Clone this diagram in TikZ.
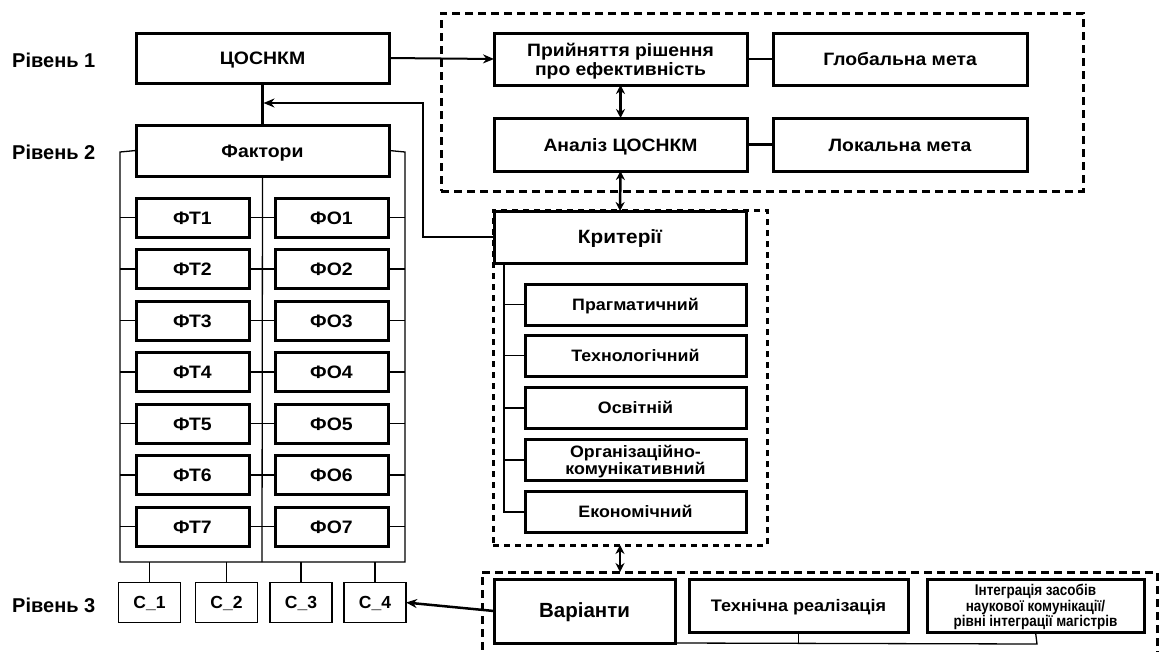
\documentclass[tikz,border=0pt]{standalone}
\usepackage{fontspec}
\setmainfont{Liberation Sans}
\newfontfamily\widef{Liberation Sans}[FakeStretch=1.08]
\newfontfamily\condf{Liberation Sans}[FakeStretch=0.87]
\usetikzlibrary{arrows.meta}
\begin{document}
\begin{tikzpicture}[x=1pt,y=-1pt,
  box/.style={draw,line width=3pt,inner sep=0pt,outer sep=0pt,align=center,font=\widef\bfseries\fontsize{18}{20}\selectfont},
  one/.style={text height=#1,text depth=0pt},
  one/.default=13pt,
  multi/.style={text depth=0pt},
  cbox/.style={draw,line width=1.5pt,inner sep=0pt,outer sep=0pt,font=\bfseries\fontsize{17.5}{20}\selectfont,minimum width=62pt,minimum height=40pt,one=12.5pt},
  rbox/.style={box,font=\widef\bfseries\fontsize{17.9}{19}\selectfont},
  kbox/.style={box,line width=3pt,font=\widef\bfseries\fontsize{16.5}{17}\selectfont,minimum width=221pt,minimum height=41pt},
  dbox/.style={draw,line width=3pt,dash pattern=on 8pt off 5pt,inner sep=0pt,outer sep=0pt},
  lvl/.style={anchor=west,inner sep=0pt,font=\bfseries\fontsize{20}{22}\selectfont,one=14.3pt},
  thin/.style={line width=1.3pt},
  arr/.style={line width=2.5pt,-{Stealth[length=11pt,width=9pt]}},
  darr/.style={line width=2.5pt,{Stealth[length=9pt,width=9pt]}-{Stealth[length=9pt,width=9pt]}}
]
\useasboundingbox[fill=white] (0,0) rectangle (1164,651);

% level labels
\node[lvl] (l1) at (12,60) {Рівень 1};
\node[lvl] (l2) at (12,152) {Рівень 2};
\node[lvl] (l3) at (12,605) {Рівень 3};

% left column
\node[box,one,minimum width=253pt,minimum height=50pt] (cos) at (262.5,58) {ЦОСНКМ};
\node[box,one,minimum width=253pt,minimum height=51pt] (fak) at (262.5,150.5) {Фактори};
\foreach \i in {1,...,7}{
  \pgfmathsetmacro{\yy}{217.5+51.5*(\i-1)}
  \node[box,one,minimum width=113pt,minimum height=39pt] (ft\i) at (192.5,\yy) {ФТ\i};
  \node[box,one,minimum width=113pt,minimum height=39pt] (fo\i) at (331.5,\yy) {ФО\i};
}
\node[cbox] (c1) at (149.5,602.5) {C\_1};
\node[cbox] (c2) at (226.5,602.5) {C\_2};
\node[cbox] (c3) at (301,602.5) {C\_3};
\node[cbox] (c4) at (375,602.5) {C\_4};

% bracket coordinates
\coordinate (lt) at (120,152);
\coordinate (rt) at (405,152);
\coordinate (lb) at (120,562);
\coordinate (rb) at (405,562);
\coordinate (mb) at (262,562);

\draw[line width=3pt] (cos.south) -- (fak.north);
\draw[thin] (fak.west) -- (lt) -- (lb) -- (rb) -- (rt) -- (fak.east);
\draw[thin] (fak.south) -- (mb);
\foreach \i in {1,...,7}{
  \draw[thin] (ft\i.west -| lt) -- (ft\i.west);
  \draw[thin] (ft\i.east) -- (fo\i.west);
  \draw[thin] (fo\i.east) -- (fo\i.east -| rt);
}
\foreach \k in {1,...,4}{
  \draw[thin] (c\k.north) -- (c\k.north |- lb);
}

% top right group
\node[dbox,minimum width=642pt,minimum height=178pt] (dtop) at (762,102) {};
\node[rbox,multi,minimum width=253pt,minimum height=52pt] (prr) at (620.5,59) {Прийняття рішення\\про ефективність};
\node[rbox,one,minimum width=254pt,minimum height=52pt] (glob) at (900,59) {Глобальна мета};
\node[rbox,one,minimum width=253pt,minimum height=53pt] (anl) at (620.5,144.5) {Аналіз ЦОСНКМ};
\node[rbox,one,minimum width=254pt,minimum height=53pt] (lok) at (900,144.5) {Локальна мета};
\draw[line width=2.5pt] (prr.east) -- (glob.west);
\draw[line width=2.5pt] (anl.east) -- (lok.west);

% criteria group
\node[dbox,dash pattern=on 6pt off 5pt,minimum width=274pt,minimum height=335pt] (dkr) at (630,377.5) {};
\node[box,one=13.8pt,fill=white,minimum width=252pt,minimum height=52pt,font=\widef\bfseries\fontsize{19.2}{20}\selectfont] (krit) at (620,237) {Критерії};
\node[kbox,one=11.8pt] (k1) at (635.5,304.5) {Прагматичний};
\node[kbox,one=11.8pt] (k2) at (635.5,355.5) {Технологічний};
\node[kbox,one=11.8pt] (k3) at (635.5,408) {Освітній};
\node[kbox,multi] (k4) at (635.5,460) {Організаційно-\\комунікативний};
\node[kbox,one=11.8pt] (k5) at (635.5,512) {Економічний};
\coordinate (ktop) at (504,264);
\draw[thin] (ktop) -- (ktop |- k5.west) -- (k5.west);
\foreach \k in {1,...,4}{
  \draw[thin] (ktop |- k\k.west) -- (k\k.west);
}

% bottom group
\node[dbox,minimum width=675pt,minimum height=88pt] (dbot) at (819.5,616) {};
\node[box,one=13.6pt,minimum width=181pt,minimum height=64pt,font=\bfseries\fontsize{20.5}{24}\selectfont] (var) at (584.5,611) {Варіанти};
\node[box,one=12pt,minimum width=219pt,minimum height=53pt,font=\widef\bfseries\fontsize{16.7}{18}\selectfont] (tech) at (798.5,605.5) {Технічна реалізація};
\node[box,multi,minimum width=217pt,minimum height=53pt,font=\condf\bfseries\fontsize{15.5}{15.5}\selectfont] (integ) at (1035.5,605.5) {Інтеграція засобів\\наукової комунікації/\\рівні інтеграції магістрів};
\coordinate (bl) at (1037,644);
\draw[thin] (var.south east) -- (bl) -- (integ.south);
\draw[thin] (tech.south) -- (tech.south |- bl);

% connectors
\draw[arr,line width=2pt] (cos.east) -- (prr.west);
\draw[arr] (krit.west) -- (423,237) -- (423,103) -- (263.5,103);
\draw[darr] (prr.south) -- (anl.north);
\draw[darr] (anl.south) -- (krit.north);
\draw[darr] (dkr.south -| krit.north) -- (dbot.north -| krit.north);
\draw[arr] (var.west) -- (c4.east);
\end{tikzpicture}
\end{document}
